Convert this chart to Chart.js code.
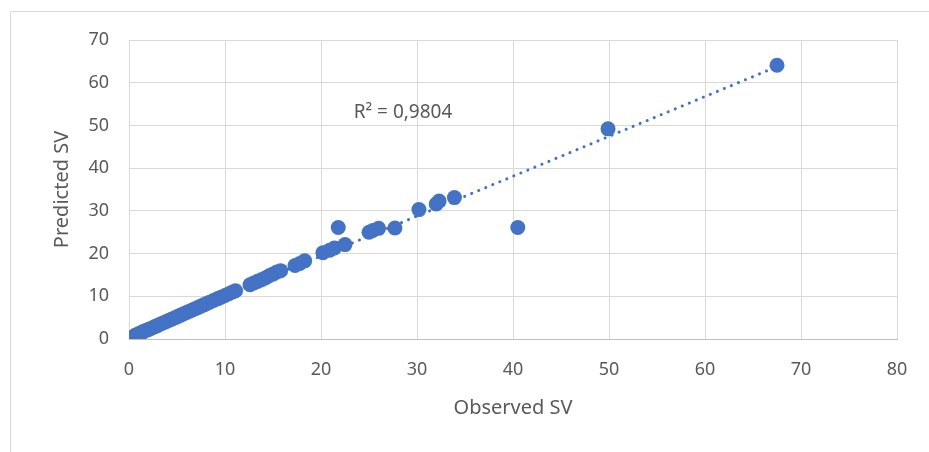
<!DOCTYPE html>
<html>
<head>
<meta charset="utf-8">
<script src="https://cdn.jsdelivr.net/npm/chart.js@4/dist/chart.umd.min.js"></script>
<style>
html,body{margin:0;padding:0;background:#fff;}
#wrap{width:929px;height:452px;position:relative;}
</style>
</head>
<body>
<div id="wrap"><canvas id="c" width="929" height="452"></canvas></div>
<script>
const observed = [0.6,0.8,1.0,1.2,1.4,1.6,1.9,2.1,2.4,2.7,3.0,3.3,3.6,3.9,4.2,4.5,4.8,5.1,5.4,5.7,6.0,6.3,6.6,6.9,7.2,7.5,7.8,8.1,8.4,8.8,9.2,9.6,10.0,10.4,10.8,11.1,12.6,13.0,13.4,13.8,14.2,14.6,15.0,15.4,15.8,17.3,17.8,18.3,20.2,20.9,21.4,22.5,21.8,25.0,25.4,26.0,27.7,30.2,32.0,32.3,33.9,40.5,49.9,67.5];
const predicted = [0.8,1.0,1.2,1.4,1.6,1.9,2.1,2.3,2.6,2.9,3.2,3.5,3.8,4.1,4.4,4.7,5.0,5.3,5.6,5.9,6.2,6.5,6.8,7.1,7.4,7.7,8.0,8.3,8.6,9.0,9.4,9.8,10.2,10.6,11.0,11.3,12.7,13.1,13.5,13.9,14.3,14.8,15.2,15.7,16.0,17.2,17.7,18.3,20.2,20.8,21.3,22.1,26.1,25.0,25.4,25.9,26.0,30.3,31.6,32.3,33.1,26.1,49.2,64.1];
const xTicks = [0,10,20,30,40,50,60,70,80];
const yTicks = [0,10,20,30,40,50,60,70];
const xTitle = "Observed SV";
const yTitle = "Predicted SV";
const r2Label = "R² = 0,9804";

const points = observed.map((x,i)=>({x:x,y:predicted[i]}));
// linear least-squares trendline derived from the data
const n = observed.length;
const mx = observed.reduce((a,b)=>a+b,0)/n;
const my = predicted.reduce((a,b)=>a+b,0)/n;
let sxy=0,sxx=0;
for(let i=0;i<n;i++){sxy+=(observed[i]-mx)*(predicted[i]-my);sxx+=(observed[i]-mx)**2;}
const slope=sxy/sxx, intercept=my-slope*mx;
const xmin=Math.min(...observed), xmax=Math.max(...observed);
const trend=[{x:xmin,y:intercept+slope*xmin},{x:xmax,y:intercept+slope*xmax}];

const FONT = "'Noto Sans', 'DejaVu Sans', sans-serif";
const TXT = '#595959';
const BLUE = '#4472C4';

const frame = {
  id:'frame',
  afterDraw(chart){
    const ctx=chart.ctx;
    ctx.save();
    ctx.strokeStyle='#d9d9d9';
    ctx.lineWidth=1;
    ctx.beginPath();
    ctx.moveTo(10.5,460);ctx.lineTo(10.5,11.5);ctx.lineTo(940,11.5);
    ctx.stroke();
    const ca=chart.chartArea;
    ctx.fillStyle=TXT;
    ctx.font="19px "+FONT;
    ctx.textAlign='center';ctx.textBaseline='middle';
    ctx.fillText(r2Label, ca.left+274, ca.top+73);
    ctx.restore();
  }
};

new Chart(document.getElementById('c'),{
  type:'scatter',
  data:{datasets:[
    {label:'trend',type:'line',data:trend,borderColor:BLUE,borderWidth:3,borderDash:[0.1,7.5],borderCapStyle:'round',pointRadius:0,fill:false,order:2},
    {label:'SV',data:points,backgroundColor:BLUE,borderColor:BLUE,borderWidth:0,pointRadius:7.5,pointHoverRadius:7.5,order:1}
  ]},
  options:{
    responsive:false,animation:false,
    layout:{padding:{left:0,top:40,right:32,bottom:0}},
    plugins:{legend:{display:false},tooltip:{enabled:false}},
    scales:{
      x:{type:'linear',min:0,max:80,
        afterBuildTicks(s){s.ticks=xTicks.map(v=>({value:v}));},
        afterFit(s){s.height=113;},
        grid:{color:'#d9d9d9',lineWidth:1,drawTicks:false},
        border:{color:'#bfbfbf',width:1},
        ticks:{color:TXT,font:{family:FONT,size:18},padding:20},
        title:{display:true,text:xTitle,color:TXT,font:{family:FONT,size:20},padding:{top:0,bottom:32}}
      },
      y:{type:'linear',min:0,max:70,
        afterBuildTicks(s){s.ticks=yTicks.map(v=>({value:v}));},
        afterFit(s){s.width=129;},
        grid:{color:'#d9d9d9',lineWidth:1,drawTicks:false},
        border:{display:false},
        ticks:{color:TXT,font:{family:FONT,size:18},padding:20},
        title:{display:true,text:yTitle,color:TXT,font:{family:FONT,size:20},padding:{top:50,bottom:0}}
      }
    }
  },
  plugins:[frame]
});
</script>
</body>
</html>
